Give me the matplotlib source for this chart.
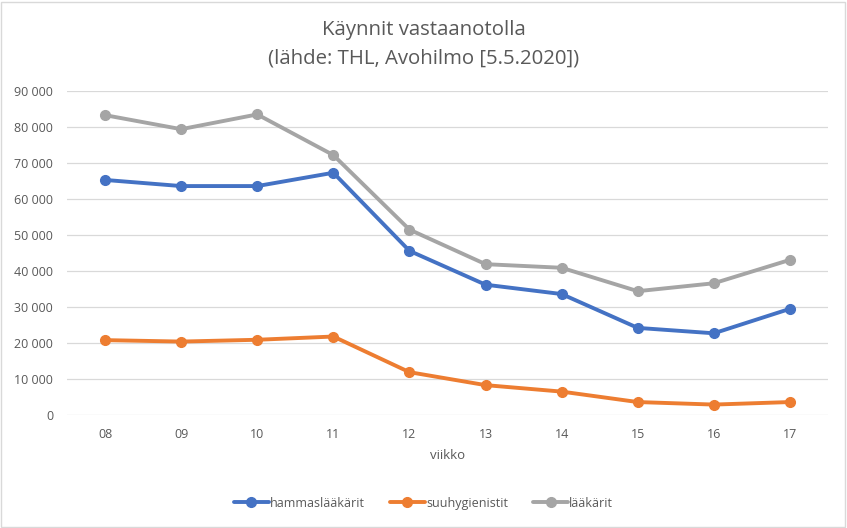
import matplotlib
matplotlib.use("Agg")
import matplotlib.pyplot as plt
from matplotlib.patches import Rectangle
from matplotlib.ticker import FuncFormatter

weeks = ["08", "09", "10", "11", "12", "13", "14", "15", "16", "17"]
hammaslaakarit = [65300, 63600, 63600, 67300, 45600, 36200, 33600, 24200, 22700, 29500]
suuhygienistit = [20800, 20400, 20900, 21800, 11900, 8300, 6500, 3600, 2900, 3600]
laakarit = [83300, 79400, 83500, 72200, 51500, 41900, 40900, 34400, 36600, 43100]

series = [
    ("hammaslääkärit", hammaslaakarit, "#4472C4"),
    ("suuhygienistit", suuhygienistit, "#ED7D31"),
    ("lääkärit", laakarit, "#A5A5A5"),
]

plt.rcParams['font.family'] = ['Open Sans', 'DejaVu Sans']
txt = "#595959"

fig = plt.figure(figsize=(8.47, 5.28), dpi=100)
ax = fig.add_axes([0.0791, 0.214, 0.8985, 0.6136])

x = list(range(len(weeks)))
for name, vals, col in series:
    ax.plot(x, vals, color=col, lw=2.8, marker='o', markersize=7, label=name,
            solid_capstyle='round', zorder=3)

ax.set_xlim(-0.5, len(weeks) - 0.5)
ax.set_ylim(0, 90000)
ax.set_yticks(range(0, 90001, 10000))
ax.yaxis.set_major_formatter(FuncFormatter(lambda v, p: f"{int(v):,}".replace(",", " ")))
ax.set_xticks(x)
ax.set_xticklabels(weeks)
ax.grid(axis='y', color='#D9D9D9', lw=0.9)
ax.set_axisbelow(True)
for s in ax.spines.values():
    s.set_visible(False)
ax.tick_params(length=0, colors=txt, labelsize=9, pad=10)
ax.tick_params(axis='x', pad=9)
ax.set_xlabel("viikko", color=txt, fontsize=9.5, labelpad=6)

fig.text(0.5, 0.943, "Käynnit vastaanotolla", ha='center', va='center',
         fontsize=14.7, color=txt)
fig.text(0.5, 0.889, "(lähde: THL, Avohilmo [5.5.2020])", ha='center', va='center',
         fontsize=14.7, color=txt)

leg = fig.legend(loc='center', bbox_to_anchor=(0.5, 0.047), ncol=3, frameon=False,
                 fontsize=9, handlelength=2.8, handletextpad=0.1, columnspacing=2.0)
for t in leg.get_texts():
    t.set_color(txt)

fig.patches.append(Rectangle((0.001, 0.002), 0.997, 0.995, transform=fig.transFigure,
                             fill=False, edgecolor='#D9D9D9', lw=1))

fig.savefig("out.png", dpi=100)
